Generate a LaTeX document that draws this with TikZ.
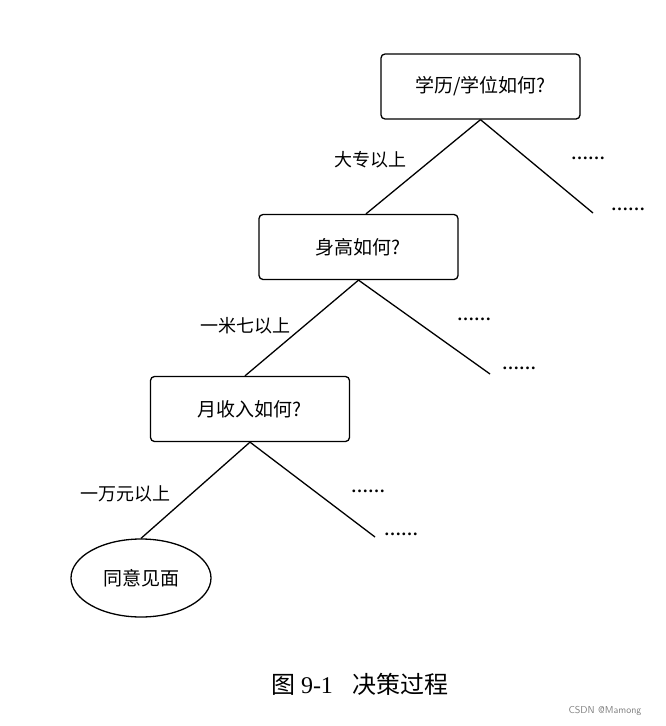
\documentclass[tikz,border=0pt]{standalone}
\usepackage{fontspec}
\setmainfont{Liberation Serif}
\newfontfamily\cjk{Noto Sans CJK SC}
\usetikzlibrary{shapes.geometric}
\begin{document}
\begin{tikzpicture}[x=1pt,y=-1pt,
  box/.style={draw,line width=1.3pt,rounded corners=4pt,minimum width=199pt,minimum height=65pt,font=\cjk\fontsize{19}{19}\selectfont},
  lab/.style={font=\cjk\fontsize{18}{18}\selectfont},
  dots/.style={font=\bfseries\fontsize{17}{17}\selectfont},
  br/.style={line width=1.3pt}]
\useasboundingbox (0,0) rectangle (666,726);
\node[box] (b1) at (480.5,86.5) {学历/学位如何?};
\node[box] (b2) at (358.5,247) {身高如何?};
\node[box] (b3) at (250,409) {月收入如何?};
\node[draw,line width=1.3pt,ellipse,minimum width=140pt,minimum height=78pt,font=\cjk\fontsize{19}{19}\selectfont] (e) at (141,578) {同意见面};
\coordinate (r1) at (593,213);
\coordinate (r2) at (490,374);
\coordinate (r3) at (375,537);
\draw[br] (b1.south) -- (b2.north east -| 366,0) ;
\draw[br] (b1.south) -- (r1);
\draw[br] (b2.south) -- (b3.north -| 245,0);
\draw[br] (b2.south) -- (r2);
\draw[br] (b3.south) -- (e.north);
\draw[br] (b3.south) -- (r3);
\node[lab] (l1) at (370,160) {大专以上};
\node[lab] (l2) at (245,326) {一米七以上};
\node[lab] (l3) at (125,494) {一万元以上};
\node[dots] (d1) at (588,158) {……};
\node[dots] (d2) at (628,209) {……};
\node[dots] (d3) at (474,319) {……};
\node[dots] (d4) at (519,368) {……};
\node[dots] (d5) at (368,491) {……};
\node[dots] (d6) at (401,534) {……};
\node[font=\fontsize{24}{24}\selectfont] (cap) at (360,684) {{\cjk 图} 9-1\hspace{20pt}{\cjk 决策过程}};
\node[font=\fontsize{10}{10}\selectfont\sffamily,text=gray] (wm) at (605,711) {CSDN @Mamong};
\end{tikzpicture}
\end{document}
